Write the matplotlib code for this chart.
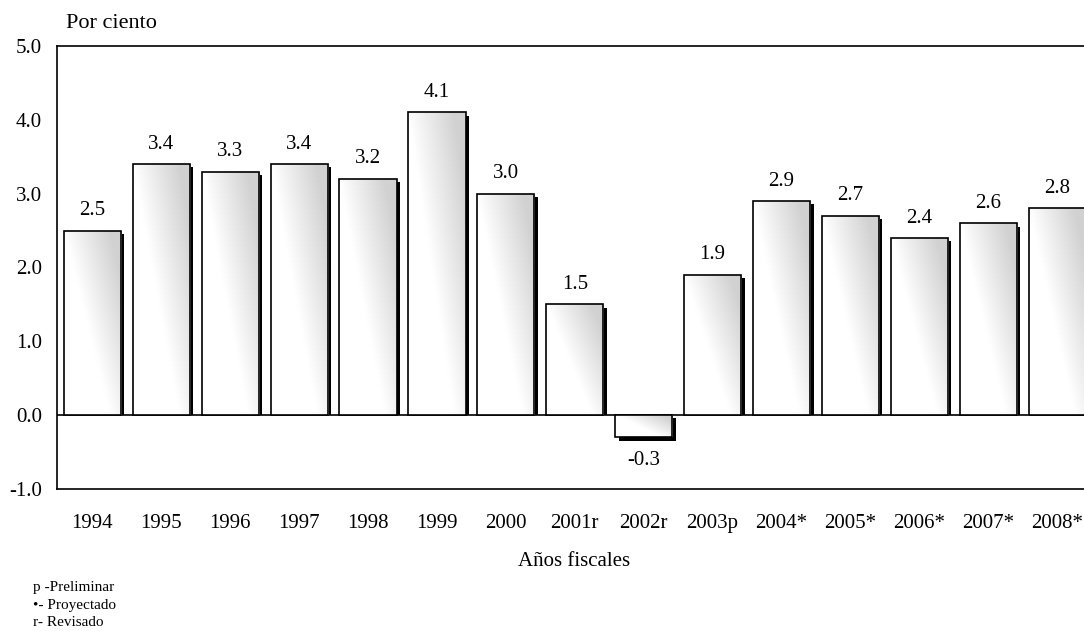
import matplotlib
matplotlib.use('Agg')
import matplotlib.pyplot as plt
import numpy as np
from matplotlib.patches import Rectangle
from matplotlib.colors import LinearSegmentedColormap

years = ['1994', '1995', '1996', '1997', '1998', '1999', '2000', '2001r',
         '2002r', '2003p', '2004*', '2005*', '2006*', '2007*', '2008*']
values = [2.5, 3.4, 3.3, 3.4, 3.2, 4.1, 3.0, 1.5, -0.3, 1.9, 2.9, 2.7, 2.4, 2.6, 2.8]
yticks = [-1.0, 0.0, 1.0, 2.0, 3.0, 4.0, 5.0]
notes = ['p -Preliminar', '\u2022- Proyectado', 'r- Revisado']

plt.rcParams['font.family'] = ['Liberation Serif', 'DejaVu Serif']

W, H = 1084, 631
fig = plt.figure(figsize=(W / 100, H / 100), dpi=100)
left_px, top_px, bot_px = 57.3, 46, 489
ax = fig.add_axes([left_px / W, 1 - bot_px / H, 1 - left_px / W, (bot_px - top_px) / H])
ax.set_xlim(-0.51, 14.39)
ax.set_ylim(-1, 5)

cmap = LinearSegmentedColormap.from_list('st', [(1, 1, 1), (0.82, 0.82, 0.82)])
bw = 0.83
dx, dy = 0.05, 0.045
gx, gy = np.meshgrid(np.linspace(0, 1, 80), np.linspace(0, 1, 120))

for i, v in enumerate(values):
    l, r = i - bw / 2, i + bw / 2
    # shadow
    if v >= 0:
        sh = Rectangle((l + dx, 0), bw, v - dy, facecolor='black', edgecolor='none', zorder=2)
    else:
        sh = Rectangle((l + dx, v - dy), bw, -v, facecolor='black', edgecolor='none', zorder=2)
    ax.add_patch(sh)
    lo, hi = min(0, v), max(0, v)
    base = Rectangle((l, lo), bw, hi - lo, facecolor='white', edgecolor='none', zorder=3)
    ax.add_patch(base)
    val = np.clip(1.25 * gx + 1.0 * gy - 1.0, 0, 1)
    im = ax.imshow(val, extent=(l, r, lo, hi), origin='lower', cmap=cmap, vmin=0, vmax=1,
                   aspect='auto', interpolation='bilinear', zorder=4)
    im.set_clip_path(base)
    ax.add_patch(Rectangle((l, lo), bw, hi - lo, facecolor='none', edgecolor='black',
                           linewidth=1.2, zorder=5))
    if v >= 0:
        ax.annotate(f'{v:.1f}', (i, v), xytext=(0, 7.5), textcoords='offset points',
                    ha='center', va='bottom', fontsize=15)
    else:
        ax.annotate(f'{v:.1f}', (i, v), xytext=(0, -10), textcoords='offset points',
                    ha='center', va='top', fontsize=15)

ax.axhline(0, color='black', linewidth=1.2, zorder=1)

ax.set_xticks(range(len(years)))
ax.set_xticklabels(years, fontsize=15)
ax.set_yticks(yticks)
ax.set_yticklabels([f'{t:.1f}' for t in yticks], fontsize=15)
ax.tick_params(axis='x', length=0, pad=18)
ax.tick_params(axis='y', length=0, pad=11)
ax.set_xlim(-0.51, 14.39)
ax.set_ylim(-1, 5)

for s in ['left', 'top', 'bottom']:
    ax.spines[s].set_linewidth(1.2)
ax.spines['right'].set_visible(False)

fig.text(66 / W, 1 - 23 / H, 'Por ciento', fontsize=16, ha='left', va='center')
fig.text(574 / W, 1 - 562 / H, 'A\u00f1os fiscales', fontsize=15, ha='center', va='center')
for k, n in enumerate(notes):
    fig.text(33 / W, 1 - (587 + 18 * k) / H, n, fontsize=11, ha='left', va='center')

fig.savefig('out.png', dpi=100)
